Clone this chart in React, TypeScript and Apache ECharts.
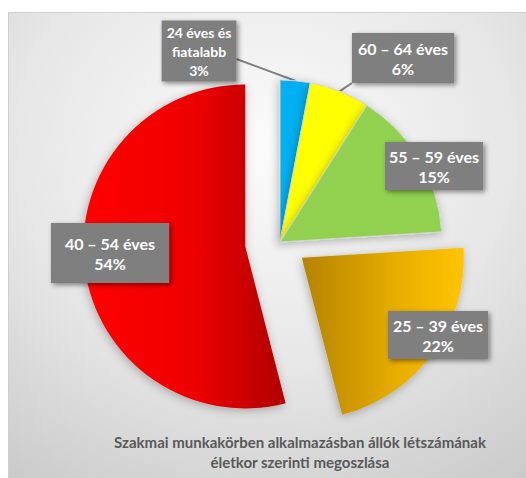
import React, { useEffect, useRef } from 'react';
import * as echarts from 'echarts';

const categories = ['24 éves és\nfiatalabb', '60 – 64 éves', '55 – 59 éves', '25 – 39 éves', '40 – 54 éves'];
const values = [3, 6, 15, 22, 54];
const titleLines = ['Szakmai munkakörben alkalmazásban állók létszámának', 'életkor szerinti megoszlása'];

const PIE_CENTER = [280, 242];
const RADIUS = 162;
const explode = [0, 0, 0, 27, 35];
// label box centre, padding and font per slice
const labelCfg = [
  { x: 199, y: 51, pad: [2, 5], fs: 14, lh: 19, line: true },
  { x: 403, y: 58, pad: [5, 6], fs: 16, lh: 20, line: true },
  { x: 434, y: 166, pad: [4, 4], fs: 16, lh: 20, line: false },
  { x: 438, y: 335, pad: [4, 5], fs: 16, lh: 20, line: false },
  { x: 110, y: 253, pad: [10, 14], fs: 16, lh: 20, line: false },
];

const fills: any[] = [
  '#00b0f0',
  '#ffff00',
  '#92d050',
  new echarts.graphic.LinearGradient(0, 0, 1, 0, [
    { offset: 0, color: '#b58300' },
    { offset: 0.6, color: '#e8ae00' },
    { offset: 1, color: '#ffc400' },
  ]),
  new echarts.graphic.LinearGradient(0, 0, 1, 0, [
    { offset: 0, color: '#ff0000' },
    { offset: 0.55, color: '#ee0000' },
    { offset: 1, color: '#b00000' },
  ]),
];

export default function App() {
  const ref = useRef<HTMLDivElement>(null);
  useEffect(() => {
    if (!ref.current) return;
    const chart = echarts.init(ref.current, undefined, { renderer: 'svg' });
    const total = values.reduce((a, b) => a + b, 0);
    let cum = 0;
    const mids = values.map((v) => {
      const m = ((cum + v / 2) / total) * Math.PI * 2;
      cum += v;
      return m;
    });

    const series = values.map((_, i) => {
      const mid = mids[i];
      const cx = PIE_CENTER[0] + explode[i] * Math.sin(mid);
      const cy = PIE_CENTER[1] - explode[i] * Math.cos(mid);
      const cfg = labelCfg[i];
      return {
        type: 'pie',
        center: [cx, cy],
        radius: [0, RADIUS],
        startAngle: 90,
        clockwise: true,
        silent: true,
        avoidLabelOverlap: false,
        emphasis: { disabled: true },
        z: 2,
        data: values.map((v, j) => ({
          name: categories[j],
          value: v,
          itemStyle:
            j === i
              ? {
                  color: fills[j],
                  borderColor: j < 3 ? '#d4d4d4' : 'rgba(0,0,0,0)',
                  borderWidth: j < 3 ? 1 : 0,
                  shadowBlur: 10,
                  shadowColor: 'rgba(0,0,0,0.28)',
                  shadowOffsetX: -1,
                  shadowOffsetY: 2,
                }
              : { color: 'rgba(0,0,0,0)', borderWidth: 0, shadowBlur: 0 },
          label: {
            show: j === i,
            formatter: '{b}\n{d}%',
            color: '#ffffff',
            fontFamily: 'Lato',
            fontWeight: 'bold',
            fontSize: cfg.fs,
            lineHeight: cfg.lh,
            align: 'center',
            backgroundColor: '#7f7f7f',
            padding: cfg.pad,
            shadowBlur: 5,
            shadowColor: 'rgba(0,0,0,0.45)',
            shadowOffsetX: 2,
            shadowOffsetY: 2,
          },
          labelLine: {
            show: j === i && cfg.line,
            lineStyle: { color: '#7f7f7f', width: 2 },
          },
        })),
        labelLayout: (p: any) => {
          if (p.dataIndex !== i) return {};
          const res: any = { x: cfg.x, y: cfg.y, align: 'center', verticalAlign: 'middle' };
          if (cfg.line) {
            const ax = cx + RADIUS * Math.sin(mid);
            const ay = cy - RADIUS * Math.cos(mid);
            const r = p.labelRect;
            const bx = i === 0 ? cfg.x + r.width / 2 : cfg.x - r.width / 2;
            const by = i === 0 ? cfg.y + 8 : cfg.y + r.height / 2;
            res.labelLinePoints = [
              [ax, ay],
              [(ax + bx) / 2, (ay + by) / 2],
              [bx, by],
            ];
          }
          return res;
        },
      };
    });

    chart.setOption({
      animation: false,
      backgroundColor: '#ffffff',
      graphic: [
        {
          type: 'rect',
          z: -10,
          silent: true,
          shape: { x: 8.5, y: 12.5, width: 530, height: 480 },
          style: {
            fill: new echarts.graphic.RadialGradient(0.48, 0.28, 0.95, [
              { offset: 0, color: '#fbfbfb' },
              { offset: 0.5, color: '#e6e6e6' },
              { offset: 1, color: '#c2c2c2' },
            ]),
            stroke: '#cfcfcf',
            lineWidth: 1,
          },
        },
        {
          type: 'text',
          z: 10,
          silent: true,
          x: 300,
          y: 452,
          style: {
            text: titleLines.join('\n'),
            align: 'center',
            verticalAlign: 'middle',
            fontFamily: 'Lato',
            fontWeight: 'bold',
            fontSize: 15,
            lineHeight: 20,
            fill: '#595959',
          },
        },
      ],
      series,
    });
    return () => chart.dispose();
  }, []);
  return (
    <div
      ref={ref}
      style={{ position: 'absolute', left: 0, top: 0, width: 526, height: 478 }}
    />
  );
}
